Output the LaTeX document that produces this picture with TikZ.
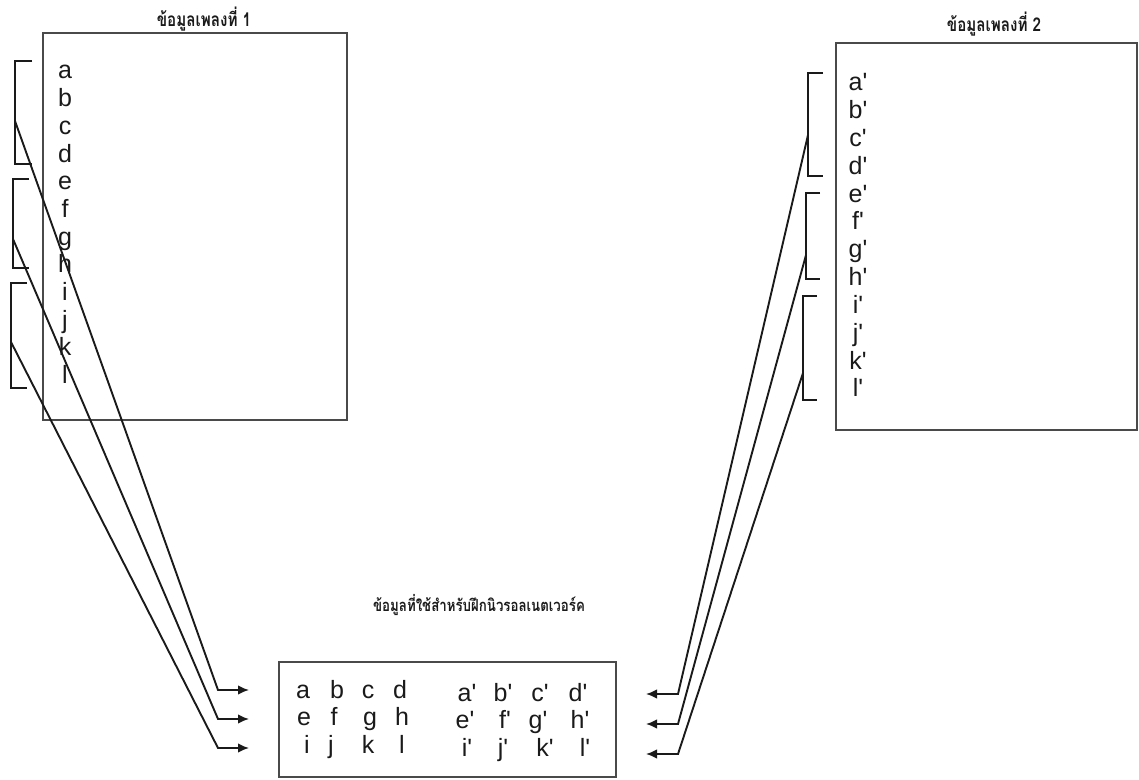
\documentclass[tikz,border=0pt]{standalone}
\usepackage{fontspec}
\setmainfont{Liberation Sans}
\newfontfamily\thaifont[Script=Thai,FakeStretch=0.8]{Loma}
\usetikzlibrary{arrows.meta}
\definecolor{mInk}{HTML}{1A1A1A}
\definecolor{mFrame}{HTML}{4A4A4A}
\newcommand\pq{\textquotesingle}
\tikzset{
  frm/.style  = {draw=mFrame, line width=0.55pt},
  brk/.style  = {draw=mInk, line width=0.7pt},
  ar/.style   = {-{Latex[length=5.5pt,width=4.8pt]}, draw=mInk, line width=0.95pt},
  ltr/.style  = {anchor=base, inner sep=0pt, text=mInk,
                 font=\fontsize{12.5}{15}\selectfont},
  ttl/.style  = {text=mInk, inner sep=0pt, font=\thaifont\bfseries\fontsize{9.5}{11}\selectfont},
}

\begin{document}
\begin{tikzpicture}[x=0.5pt, y=-0.5pt]
  \useasboundingbox (0,0) rectangle (1139,780);
  % song 1
  \draw[frm] (43,33) rectangle (347,420);
  \node[ttl] (t1) at (204,19) {ข้อมูลเพลงที่ 1};
  \foreach \c [count=\i from 0] in {a,b,...,l}
    \node[ltr] (s1\c) at (65,{79+27.7*\i}) {\c};
  \foreach \k/\x/\ya/\yb/\ym/\xt in {1/15/61/164/121/32, 2/13/179/268/239/29, 3/11/283/388/342/27} {
    \draw[brk] (\xt,\ya) -- (\x,\ya) -- (\x,\yb) -- (\xt,\yb);
    \coordinate (g1\k) at (\x,\ym);
  }
  % song 2
  \draw[frm] (836,43) rectangle (1137,430);
  \node[ttl] (t2) at (994,24) {ข้อมูลเพลงที่ 2};
  \foreach \c [count=\i from 0] in {a,b,...,l}
    \node[ltr] (s2\c) at (858,{91+27.8*\i}) {\c\pq};
  \foreach \k/\x/\ya/\yb/\ym/\xt in {1/808/73/176/135/823, 2/806/193/279/255/820, 3/803/296/400/373/817} {
    \draw[brk] (\xt,\ya) -- (\x,\ya) -- (\x,\yb) -- (\xt,\yb);
    \coordinate (g2\k) at (\x,\ym);
  }
  % training set
  \draw[frm] (279,662) rectangle (616,777);
  \node[ttl, font=\thaifont\bfseries\fontsize{8.3}{10}\selectfont] (t3) at (479,605)
    {ข้อมูลที่ใช้สำหรับฝึกนิวรอลเนตเวอร์ค};
  \foreach \c/\x/\y in {a/303/698, b/337/698, c/368/698, d/400/698,
                        e/304/725, f/334/725, g/370/725, h/402/725,
                        i/307/753, j/331/753, k/368/753, l/402/753}
    \node[ltr] (m\c) at (\x,\y) {\c};
  \foreach \c/\x/\y in {a/467/701, b/503/701, c/540/701, d/578/701,
                        e/465/728, f/505/728, g/538/728, h/580/728,
                        i/467/756, j/503/756, k/545/756, l/585/756}
    \node[ltr] (n\c) at (\x,\y) {\c\pq};
  % arrows
  \foreach \k/\y in {1/690, 2/719, 3/748} {
    \coordinate (b1\k) at (218,\y);
    \coordinate (e1\k) at (249,\y);
    \draw[ar] (g1\k) -- (b1\k) -- (e1\k);
  }
  \foreach \k/\y in {1/694, 2/724, 3/754} {
    \coordinate (b2\k) at (678,\y);
    \coordinate (e2\k) at (646,\y);
    \draw[ar] (g2\k) -- (b2\k) -- (e2\k);
  }
\end{tikzpicture}
\end{document}
